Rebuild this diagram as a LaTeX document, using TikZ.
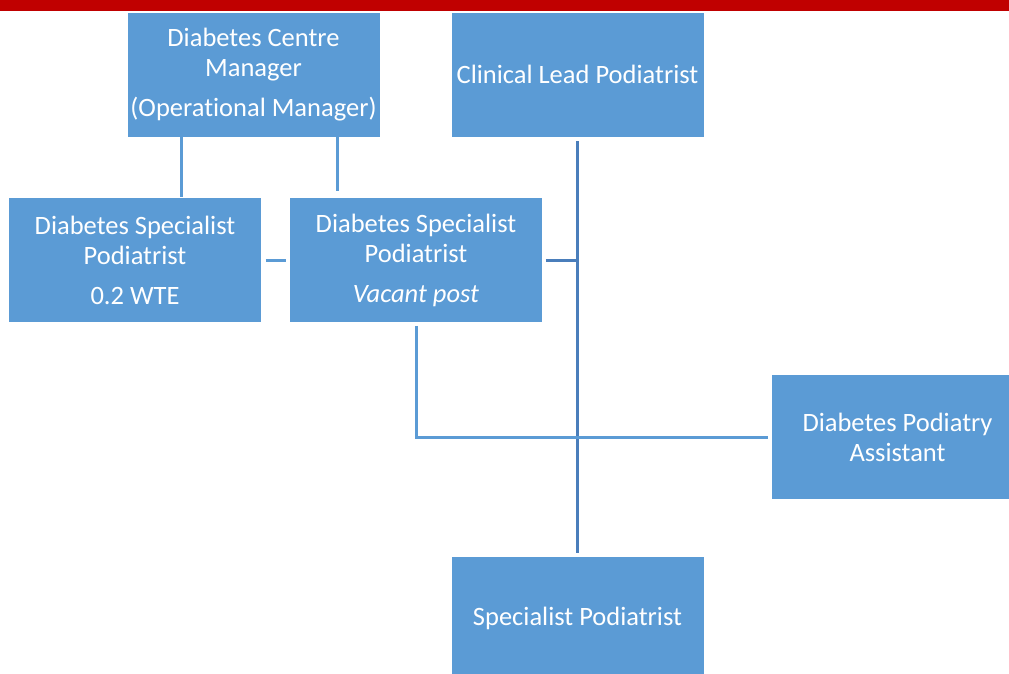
\documentclass[tikz,border=0pt]{standalone}
\usepackage{fontspec}
\setmainfont{Carlito}[Ligatures=NoCommon]
\usepackage{tikz}
\usetikzlibrary{arrows}
\definecolor{boxblue}{HTML}{5B9BD5}
\definecolor{lineblue}{HTML}{4A7EBB}
\definecolor{barred}{HTML}{C00000}
\tikzset{
	main node/.style={rectangle,fill=boxblue,draw=white,line width=0.8pt,text=white,align=center,
		minimum width=253pt,minimum height=125pt,inner sep=0pt,font=\fontsize{26.5}{30}\selectfont},
	light line/.style={draw=boxblue,line width=3pt},
	dark line/.style={draw=lineblue,line width=3pt}
}

\begin{document}
\begin{tikzpicture}[x=1pt,y=-1pt]
	    \useasboundingbox (0,0) rectangle (1009,673);
	    \fill[barred] (0,0) rectangle (1009,11);
	    \node [main node] (1) at (253.5,74.5) {Diabetes Centre\\Manager\\[10pt](Operational Manager)};
	    \node [main node] (2) at (577.5,74.5) {Clinical Lead Podiatrist};
	    \node [main node] (3) at (135,260) {Diabetes Specialist\\Podiatrist\\[10pt]0.2 WTE};
	    \node [main node] (4) at (416,260) {Diabetes Specialist\\Podiatrist\\[10pt]\itshape Vacant post};
	    \node [main node] (5) at (897.5,437) {Diabetes Podiatry\\Assistant};
	    \node [main node] (6) at (577.5,618.5) {Specialist Podiatrist};
	    \draw [light line] ([xshift=-72.5pt]1.south) -- ([xshift=-72.5pt+118.5pt]3.north);
	    \draw [light line] ([xshift=83.5pt]1.south) -- ([xshift=-79pt,yshift=6pt]4.north);
	    \draw [light line] ([xshift=4pt]3.east) -- ([xshift=-3pt]4.west);
	    \draw [dark line] ([yshift=-4pt]2.south) -- ([yshift=3pt]6.north);
	    \draw [dark line] ([xshift=3pt]4.east) -- (4.east -| 2.south);
	    \draw [light line] ([yshift=-3pt]4.south) |- ([xshift=-3pt]5.west);
	  \end{tikzpicture}
\end{document}
